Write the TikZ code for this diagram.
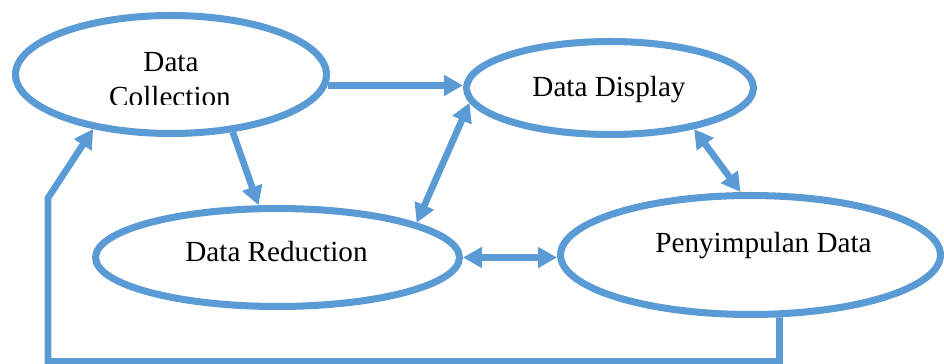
\documentclass[tikz,border=0pt]{standalone}
\usepackage{fontspec}
\setmainfont{Liberation Serif}
\usepackage{xcolor}
\usetikzlibrary{shapes.geometric,arrows.meta}
\definecolor{loopblue}{HTML}{5B9BD5}

\begin{document}
\begin{tikzpicture}[x=0.02cm,y=-0.02cm,
		stage/.style={draw=loopblue,line width=4pt,fill=white,ellipse,inner sep=0pt},
		lbl/.style={anchor=base,inner sep=0pt,font=\fontsize{16.6}{20}\selectfont},
		flow/.style={draw=loopblue,line width=3.8pt,-{Triangle[length=0.38cm,width=0.40cm]}},
		both/.style={flow,{Triangle[length=0.38cm,width=0.40cm]}-{Triangle[length=0.38cm,width=0.40cm]}}]
		\useasboundingbox (0,0) rectangle (944,364);
		% the four stages
		\node[stage,minimum width=6.22cm,minimum height=2.36cm] (dc) at (171,74.5) {};
		\node[stage,minimum width=5.74cm,minimum height=1.86cm] (dd) at (610,88) {};
		\node[stage,minimum width=7.28cm,minimum height=1.96cm] (dr) at (277.5,257.5) {};
		\node[stage,minimum width=7.60cm,minimum height=2.38cm] (pd) at (750.5,255) {};
		\node[lbl] (dctop) at (171,71.5) {Data};
		\begin{scope}
			\clip (0,0) rectangle (944,105);
			\node[lbl] (dcbot) at (170,106.5) {Collection};
		\end{scope}
		\node[lbl] (ddtxt) at (609,96.5) {Data Display};
		\node[lbl] (drtxt) at (276.5,261.5) {Data Reduction};
		\node[lbl] (pdtxt) at (763.5,253) {Penyimpulan Data};
		% arrows
		\draw[flow] (dc.-4) -- (dc.-4 -| dd.west);
		\draw[flow] (dc.-43.5) -- (dr.110);
		\draw[both] (dd.186) -- (dr.14);
		\draw[both] (dd.-26) -- (pd.99.5);
		\draw[both] (dr.east) -- (dr.east -| pd.west);
		% back to the start
		\coordinate (lowleft) at (48,361.5);
		\coordinate (bend) at (48,198);
		\draw[flow] (pd.-65) |- (lowleft) -- (bend) -- (dc.215);
	\end{tikzpicture}
\end{document}
